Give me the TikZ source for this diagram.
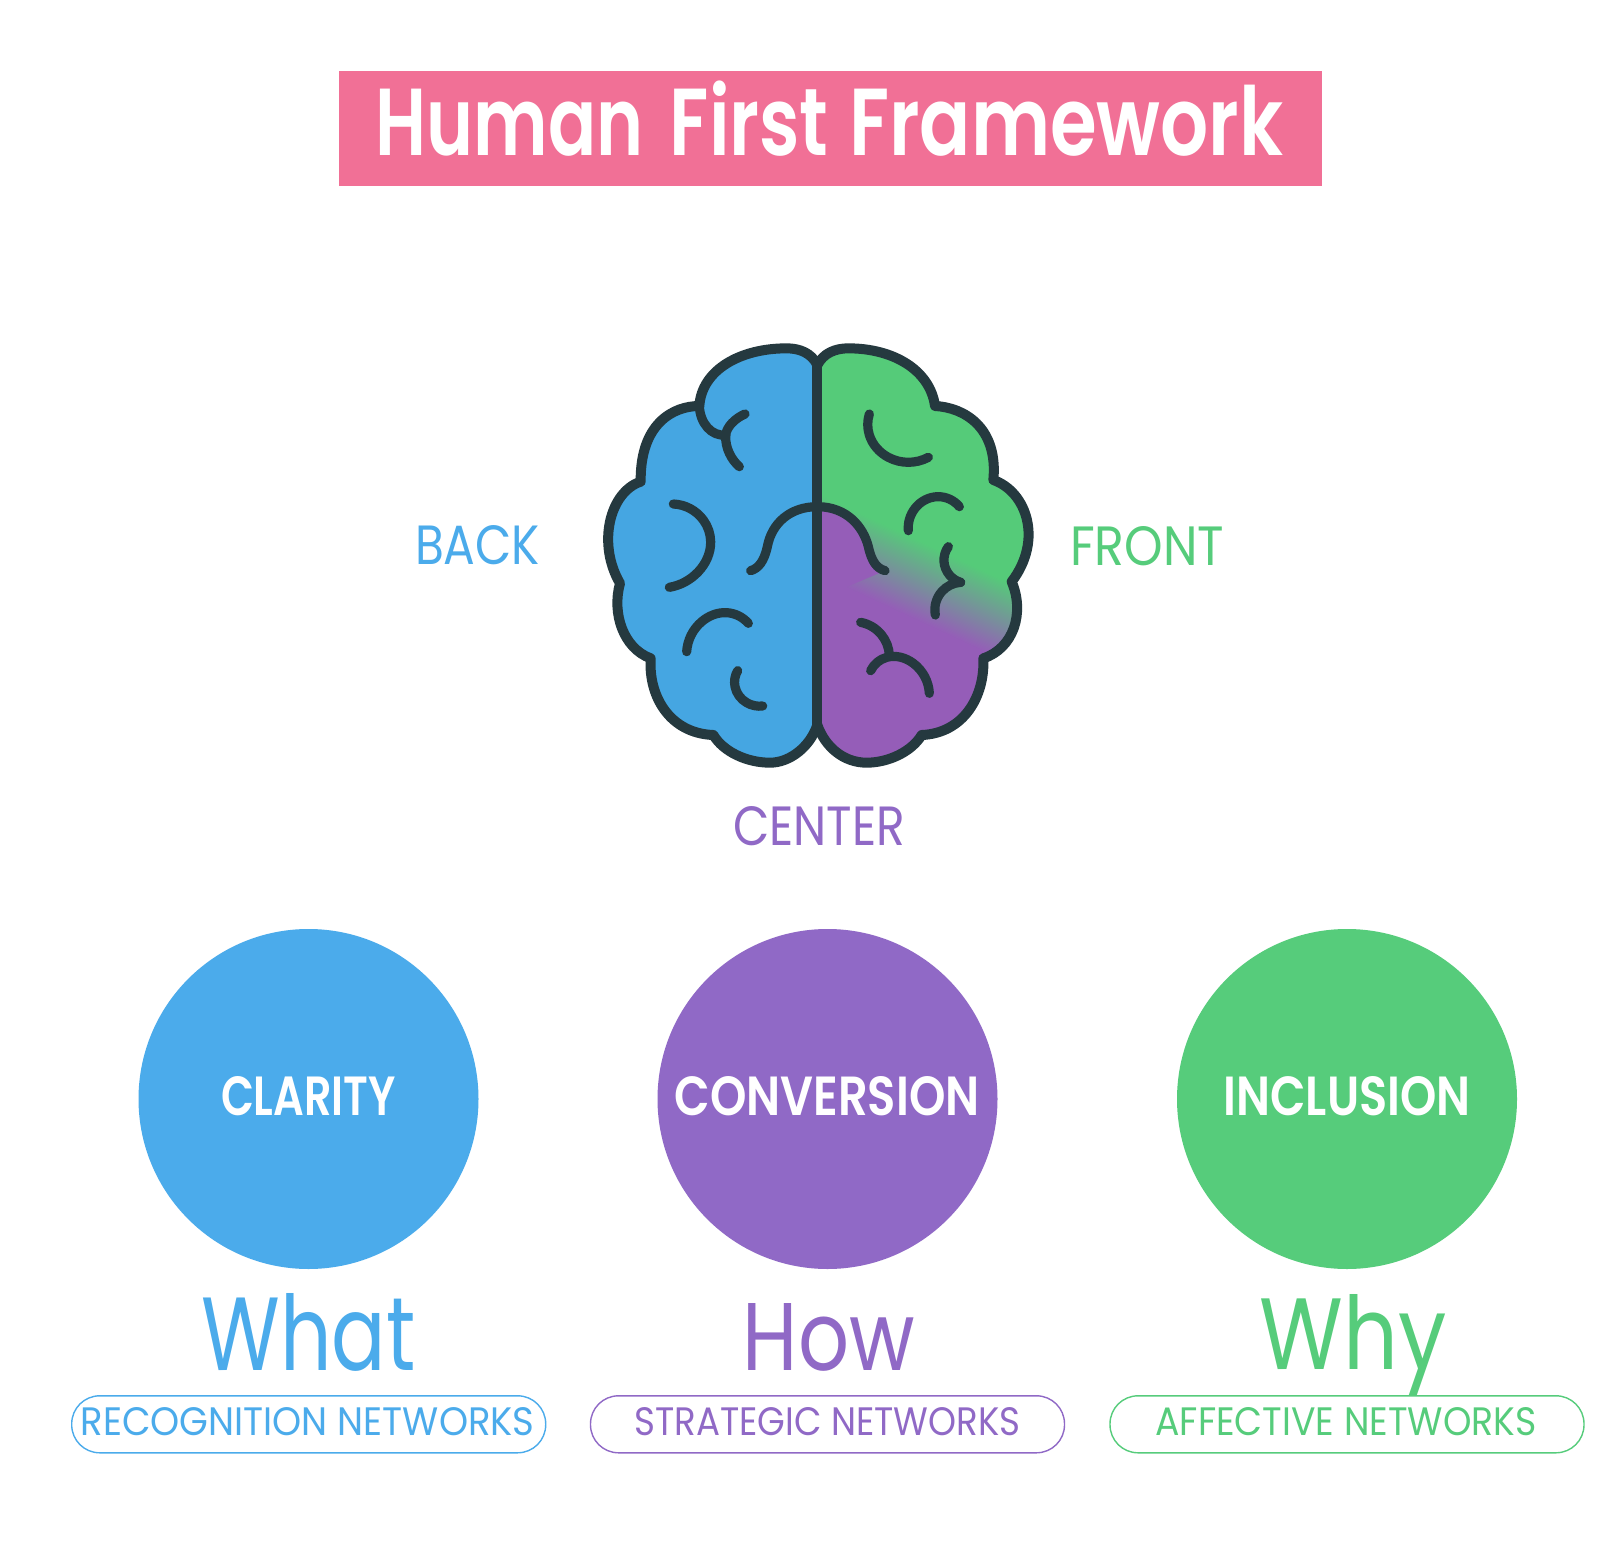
\documentclass[tikz,border=0pt]{standalone}
\usepackage{fontspec}
\usepackage{graphicx}
\usetikzlibrary{hobby}
\setmainfont{Poppins}
\newfontfamily\popmed{Poppins Medium}
\newfontfamily\popsemi{Poppins SemiBold}
\newdimen\pxu \pxu=.5pt
\newcommand{\ft}[3]{\resizebox{#1\pxu}{#2\pxu}{#3}}
\definecolor{cblue}{HTML}{4BABEB}
\definecolor{cpurple}{HTML}{9069C6}
\definecolor{cgreen}{HTML}{56CC7B}
\definecolor{cpink}{HTML}{F17096}
\definecolor{bblue}{HTML}{45A6E2}
\definecolor{bpurple}{HTML}{955DB8}
\definecolor{bgreen}{HTML}{55CB79}
\definecolor{bdark}{HTML}{25393F}
\tikzset{
  txt/.style={inner sep=0pt,outer sep=0pt,anchor=base},
  disc/.style={circle,minimum size=340*\pxu,inner sep=0pt},
  pill/.style={draw,line width=.7pt,rounded corners=28*\pxu,minimum width=474*\pxu,minimum height=57*\pxu,inner sep=0pt},
  fold/.style={draw=bdark,line width=4.6pt,line cap=round,line join=round},
  outline/.style={draw=bdark,line width=5pt,line join=round}
}
\def\leftpath{(712,135)
 .. controls (695,100) and (660,85) .. (620,85)
 .. controls (480,85) and (365,150) .. (358,258)
 .. controls (280,258) and (180,310) .. (182,485)
 .. controls (90,515) and (50,670) .. (120,790)
 .. controls (95,880) and (130,985) .. (212,1015)
 .. controls (205,1130) and (270,1240) .. (400,1245)
 .. controls (430,1295) and (500,1328) .. (570,1328)
 .. controls (630,1328) and (690,1280) .. (712,1215)}
\def\rightpath{(712,135)
 .. controls (730,100) and (765,85) .. (805,85)
 .. controls (940,85) and (1050,150) .. (1065,258)
 .. controls (1150,262) and (1255,320) .. (1240,480)
 .. controls (1340,515) and (1390,660) .. (1295,785)
 .. controls (1335,880) and (1300,985) .. (1210,1015)
 .. controls (1215,1130) and (1150,1240) .. (1025,1245)
 .. controls (995,1295) and (925,1328) .. (860,1328)
 .. controls (790,1328) and (735,1280) .. (712,1215)}
\begin{document}
\begin{tikzpicture}[x=.5pt,y=-.5pt]
\useasboundingbox (0,0) rectangle (1600,1561);
\fill[white] (0,0) rectangle (1600,1561);
% title
\node[fill=cpink,minimum width=983*\pxu,minimum height=115*\pxu,inner sep=0pt] (titlebox) at (830.5,128.5) {};
\node[txt,text=white] (title) at (829.5,155.3) {\ft{908}{74.6}{\popsemi \scalebox{.96}[1]{Human}\hspace{.12em} First\hspace{.04em} \scalebox{1.02}[1]{Framework}}};
% brain
\begin{scope}[shift={(580,320)},x=.16667pt,y=-.16667pt]
  \fill[bblue] \leftpath -- cycle;
  \begin{scope}
    \clip \rightpath -- cycle;
    \fill[bgreen] (700,60) rectangle (1400,1350);
    \begin{scope}[transform canvas={rotate around={-25:(471.65pt,-294.15pt)}}]
      \shade[top color=bgreen,bottom color=bpurple] (300,705) rectangle (1900,925);
      \fill[bpurple] (300,924) rectangle (1900,1800);
    \end{scope}
    \fill[bpurple] (712,560) .. controls (800,560) and (850,620) .. (865,680)
      .. controls (875,725) and (890,745) .. (915,752) -- (790,805) -- (712,805) -- cycle;
  \end{scope}
  \path[outline] \leftpath;
  \path[outline] \rightpath;
  \draw[bdark,line width=5pt] (712,125) -- (712,1225);
  % folds, left
  \path[fold] (280,552) to[curve through={(370,600) (392,665) (355,755)}] (268,802);
  \path[fold] (712,560) .. controls (630,560) and (575,610) .. (562,680) .. controls (552,725) and (535,745) .. (512,752);
  \path[fold] (320,995) to[curve through={(365,905) (440,878)}] (505,910);
  \path[fold] (473,1052) to[curve through={(465,1100) (500,1148)}] (548,1158);
  \path[fold] (358,258) .. controls (360,310) and (395,350) .. (437,345);
  \path[fold] (437,345) .. controls (440,320) and (465,295) .. (495,282);
  \path[fold] (437,345) .. controls (435,385) and (455,420) .. (478,440);
  % folds, right
  \path[fold] (868,282) to[curve through={(868,345) (925,412)}] (1045,412);
  \path[fold] (985,632) to[curve through={(1005,565) (1075,530)}] (1138,560);
  \path[fold] (712,560) .. controls (800,560) and (850,620) .. (865,680) .. controls (875,725) and (890,745) .. (915,752);
  \path[fold] (1105,680) to[curve through={(1092,725)}] (1142,787);
  \path[fold] (1142,787) to[curve through={(1085,815)}] (1066,885);
  \path[fold] (842,907) to[curve through={(905,945)}] (928,1005);
  \path[fold] (872,1052) to[curve through={(920,1012) (1000,1030)}] (1048,1120);
\end{scope}
% brain labels
\node[txt,text=cblue] (back) at (477.5,565) {\ft{125}{39}{BACK}};
\node[txt,text=cgreen] (front) at (1147,565) {\ft{154}{39}{FRONT}};
\node[txt,text=cpurple] (center) at (819,845) {\ft{172}{39}{CENTER}};
% discs
\node[disc,fill=cblue] (d1) at (308.5,1099) {};
\node[disc,fill=cpurple] (d2) at (827.5,1099) {};
\node[disc,fill=cgreen] (d3) at (1347,1099) {};
\node[txt,text=white] (clarity) at (308.5,1115) {\ft{175}{39}{\popsemi CLARITY}};
\node[txt,text=white] (conversion) at (827,1115) {\ft{305}{39}{\popsemi CONVERSION}};
\node[txt,text=white] (inclusion) at (1347,1115) {\ft{247}{39}{\popsemi INCLUSION}};
% what how why
\node[txt,text=cblue] (what) at (308.7,1370) {\ft{214}{77}{What}};
\node[txt,text=cpurple] (how) at (829,1370) {\ft{172}{67}{How}};
\node[txt,text=cgreen] (why) at (1353,1369) {\ft{187}{75}{Why}};
% pills
\node[pill,draw=cblue] (p1) at (308.7,1424.3) {};
\node[pill,draw=cpurple] (p2) at (827.5,1424.3) {};
\node[pill,draw=cgreen] (p3) at (1347,1424.3) {};
\node[txt,text=cblue] (t1) at (307.6,1435.7) {\ft{454}{28}{RECOGNITION NETWORKS}};
\node[txt,text=cpurple] (t2) at (827.5,1435.7) {\ft{386}{28}{STRATEGIC NETWORKS}};
\node[txt,text=cgreen] (t3) at (1346,1435.7) {\ft{381}{28}{AFFECTIVE NETWORKS}};
\end{tikzpicture}
\end{document}
